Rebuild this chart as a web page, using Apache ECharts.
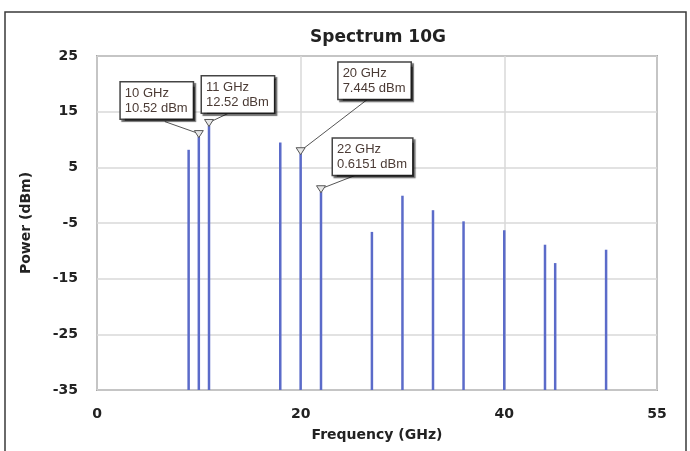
<!DOCTYPE html>
<html>
<head>
<meta charset="utf-8">
<script src="https://cdn.jsdelivr.net/npm/echarts@6.0.0/dist/echarts.min.js"></script>
<style>
  html, body { margin: 0; padding: 0; background: #fff; }
  #chart { width: 690px; height: 451px; }
</style>
</head>
<body>
<div id="chart"></div>
<script>
// Spectral lines: frequency (GHz) and power (dBm)
const freqGHz  = [9, 10, 11, 18, 20, 22, 27, 30, 33, 36, 40, 44, 45, 50];
const powerDbm = [8.15, 10.52, 12.52, 9.46, 7.445, 0.6151, -6.6, -0.1, -2.7, -4.7, -6.3, -8.9, -12.2, -9.8];

// Marked tones and their readout text
const markerFreq = [10, 11, 20, 22];
const markerText = ['10 GHz\n10.52 dBm', '11 GHz\n12.52 dBm', '20 GHz\n7.445 dBm', '22 GHz\n0.6151 dBm'];

// Axis ranges and tick labels
const xTicks = [0, 20, 40, 55];
const yTicks = [-35, -25, -15, -5, 5, 15, 25];

// Readout box placement relative to the marker (px): box corner and leader end
const calloutLayout = [
  { dx: -78, dy: -54, ax: -34, ay: -15 },
  { dx: -7,  dy: -49, ax: 19,  ay: -12 },
  { dx: 38,  dy: -91, ax: 69,  ay: -56 },
  { dx: 12,  dy: -53, ax: 41,  ay: -19 }
];

const yMin = yTicks[0], yMax = yTicks[yTicks.length - 1];
const FONT = '"DejaVu Sans", Verdana, sans-serif';

function renderLine(params, api) {
  const f = api.value(0), p = api.value(1);
  const top = api.coord([f, p]);
  const base = api.coord([f, yMin]);
  const children = [{
    type: 'line',
    shape: { x1: top[0], y1: base[1], x2: top[0], y2: top[1] },
    style: { stroke: '#5b6bc9', lineWidth: 2.5 }
  }];
  const m = markerFreq.indexOf(f);
  if (m >= 0) {
    const c = calloutLayout[m];
    children.push({
      type: 'line',
      shape: { x1: top[0], y1: top[1] - 3, x2: top[0] + c.ax, y2: top[1] + c.ay },
      style: { stroke: '#555', lineWidth: 1 }
    });
    children.push({
      type: 'polygon',
      shape: { points: [[top[0] - 4.5, top[1] - 6], [top[0] + 4.5, top[1] - 6], [top[0], top[1] + 1]] },
      style: { fill: '#e6e6e6', stroke: '#555', lineWidth: 1 }
    });
    children.push({
      type: 'text',
      x: top[0] + c.dx,
      y: top[1] + c.dy,
      style: {
        text: markerText[m],
        fontSize: 13,
        fontFamily: 'Arial, "Liberation Sans", sans-serif',
        fill: '#4b3b35',
        lineHeight: 15,
        backgroundColor: '#fff',
        borderColor: '#444',
        borderWidth: 1.5,
        padding: [3, 5, 3, 4],
        shadowColor: 'rgba(0,0,0,0.55)',
        shadowOffsetX: 2,
        shadowOffsetY: 2,
        shadowBlur: 1
      }
    });
  }
  return { type: 'group', children };
}

const chart = echarts.init(document.getElementById('chart'), null, { renderer: 'canvas' });

const labelFont = {
  color: '#222',
  fontFamily: FONT,
  fontWeight: 'bold',
  fontSize: 14
};

chart.setOption({
  animation: false,
  backgroundColor: '#fff',
  title: {
    text: 'Spectrum 10G',
    left: 373,
    top: 24,
    textAlign: 'center',
    textStyle: { color: '#222', fontFamily: FONT, fontWeight: 'bold', fontSize: 17 }
  },
  graphic: [{
    type: 'rect',
    shape: { x: 5, y: 12, width: 681, height: 450 },
    style: { fill: 'none', stroke: '#3a3a3a', lineWidth: 1.5 },
    silent: true
  }],
  grid: {
    left: 97, right: 33, top: 56, bottom: 61,
    show: true, borderColor: '#666', borderWidth: 1.5, backgroundColor: '#fff'
  },
  xAxis: {
    type: 'value',
    min: xTicks[0],
    max: xTicks[xTicks.length - 1],
    interval: 20,
    name: 'Frequency (GHz)',
    nameLocation: 'middle',
    nameGap: 38,
    nameTextStyle: labelFont,
    axisLine: { show: false },
    axisTick: { show: false },
    axisLabel: Object.assign({ margin: 17 }, labelFont),
    splitLine: { show: true, lineStyle: { color: '#d9d9d9', width: 1.5 } }
  },
  yAxis: {
    type: 'value',
    min: yMin,
    max: yMax,
    interval: 10,
    name: 'Power (dBm)',
    nameLocation: 'middle',
    nameGap: 64,
    nameTextStyle: labelFont,
    axisLine: { show: false },
    axisTick: { show: false },
    axisLabel: Object.assign({ margin: 19 }, labelFont),
    splitLine: { show: true, lineStyle: { color: '#d9d9d9', width: 1.5 } }
  },
  series: [{
    type: 'custom',
    renderItem: renderLine,
    encode: { x: 0, y: 1 },
    data: freqGHz.map((f, i) => [f, powerDbm[i]]),
    z: 3
  }]
});
</script>
</body>
</html>
